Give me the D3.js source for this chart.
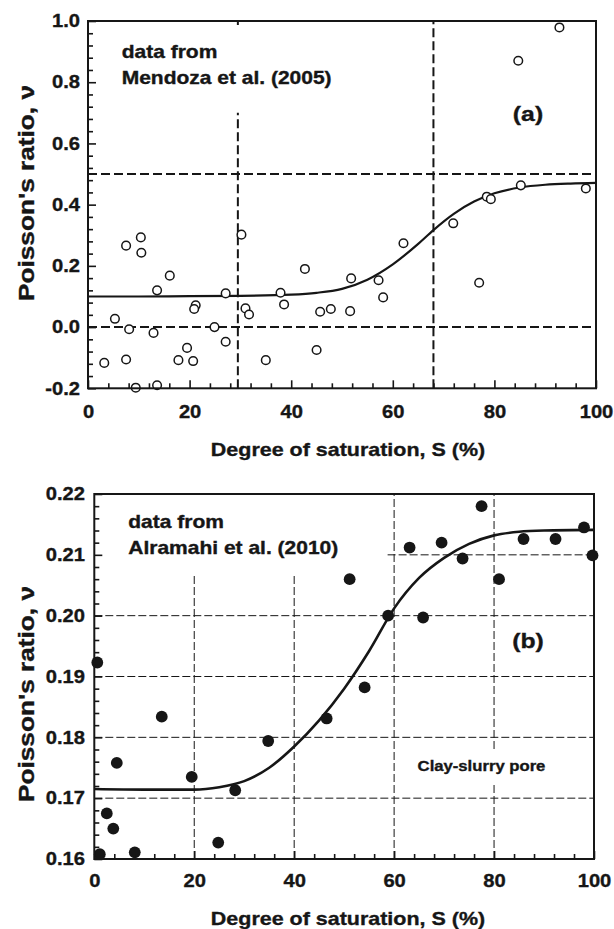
<!DOCTYPE html>
<html><head><meta charset="utf-8">
<script src="https://cdn.jsdelivr.net/npm/d3@7"></script>
<style>
html,body{margin:0;padding:0;background:#fff;}
svg{display:block;font-family:"Liberation Sans",Arial,Helvetica,sans-serif;}
</style></head><body>
<svg id="fig" width="614" height="929"></svg>
<script>
// ---- Panel (a): data from Mendoza et al. (2005) ----
const satA = [3.2,5.3,7.5,7.5,8.1,9.4,10.4,10.5,12.9,13.6,13.6,16.1,17.8,19.5,20.7,21.2,20.9,24.9,27.1,27.1,
              30.2,31.0,31.7,35.0,37.9,38.6,42.7,45.0,45.7,47.8,51.6,51.8,57.2,58.1,62.1,71.9,77.0,78.5,79.3,
              85.2,98.0,84.7,92.8];
const nuA  = [-0.117,0.027,0.266,-0.106,-0.007,-0.198,0.293,0.243,-0.019,0.120,-0.190,0.168,-0.108,-0.068,-0.111,0.071,0.059,0.000,0.110,-0.048,
              0.302,0.061,0.041,-0.108,0.112,0.074,0.190,-0.075,0.050,0.059,0.052,0.159,0.153,0.097,0.274,0.339,0.145,0.426,0.418,
              0.463,0.453,0.870,0.979];
const fitSatA = [0,10,20,30,40,45,50,55,60,65,68,72,76,80,85,90,95,100];
const fitNuA  = [0.100,0.100,0.101,0.102,0.106,0.112,0.125,0.155,0.205,0.272,0.317,0.370,0.410,0.437,0.456,0.465,0.469,0.471];
const yTicksA = [-0.2,0.0,0.2,0.4,0.6,0.8,1.0];
const refNuA  = [0.0, 0.5];                 // horizontal dashed reference levels
const refSatA = [29.5, 68];                 // vertical dashed reference saturations
const refSatTopA = [0.7, 1.0];              // upper end of each vertical reference line

// ---- Panel (b): data from Alramahi et al. (2010) ----
const satB = [0.6,1.1,2.5,3.8,4.5,8.1,13.5,19.5,24.8,28.2,34.8,46.5,51.1,54.1,58.8,63.1,65.8,69.5,73.7,77.5,81.0,85.9,92.3,98.0,99.7];
const nuB  = [0.1923,0.1608,0.1675,0.1650,0.1758,0.1611,0.1834,0.1735,0.1627,0.1713,0.1794,0.1831,0.2060,0.1882,0.2000,0.2112,0.1997,0.2120,0.2094,0.2180,0.2060,0.2126,0.2126,0.2145,0.2099];
const fitSatB = [0,10,20,25,30,35,40,45,50,55,60,65,70,75,80,85,90,100];
const fitNuB  = [0.1715,0.1714,0.1714,0.1718,0.1728,0.1750,0.1785,0.1828,0.1880,0.1942,0.2012,0.2062,0.2095,0.2118,0.2132,0.2138,0.2140,0.2141];
const yTicksB = [0.16,0.17,0.18,0.19,0.20,0.21,0.22];
const gridSatB = [20,40,60,80];
const gridSatTopB = [0.207,0.207,0.22,0.22];
const gridNuB = [0.17,0.18,0.19,0.20,0.21];
const gridNuStartB = [0,0,0,0,58.7];

const xTicks = [0,20,40,60,80,100];

const INK = "#161616";
const svg = d3.select("#fig");

// bold text stretched horizontally by sx
function txt(g, x, y, s, size, anchor, sx, rot) {
  return g.append("text")
    .attr("transform", `translate(${x},${y})` + (rot ? ` rotate(${rot})` : "") + ` scale(${sx},1)`)
    .attr("text-anchor", anchor)
    .style("font-size", size + "px")
    .style("font-weight", "bold")
    .style("fill", INK)
    .style("stroke", INK).style("stroke-width", 0.35)
    .text(s);
}

function minorRange(lo, hi, step, majors) {
  const out = [];
  const n = Math.round((hi - lo) / step);
  for (let i = 0; i <= n; i++) {
    const v = +(lo + i * step).toFixed(6);
    if (!majors.some(m => Math.abs(m - v) < 1e-9)) out.push(v);
  }
  return out;
}

function frameAndAxes(x, y, yTicks, yFmt, yMinorStep, yPad, xPad) {
  const [x0, x1] = x.range();
  const [y0, y1] = y.range();
  const sx = 1.12;
  // major ticks + labels
  const ax = svg.append("g").attr("transform", `translate(${x0},0)`)
    .call(d3.axisLeft(y).tickValues(yTicks).tickSize(-8).tickPadding(yPad / sx).tickFormat(yFmt));
  const bx = svg.append("g").attr("transform", `translate(0,${y0})`)
    .call(d3.axisBottom(x).tickValues(xTicks).tickSize(-8).tickPadding(xPad).tickFormat(d3.format("d")));
  // minor ticks
  const d = y.domain();
  const am = svg.append("g").attr("transform", `translate(${x0},0)`)
    .call(d3.axisLeft(y).tickValues(minorRange(d[0], d[1], yMinorStep, yTicks)).tickSize(-5).tickFormat(() => ""));
  const bm = svg.append("g").attr("transform", `translate(0,${y0})`)
    .call(d3.axisBottom(x).tickValues(minorRange(0, 100, 4, xTicks)).tickSize(-5).tickFormat(() => ""));
  [ax, bx, am, bm].forEach(g => {
    g.select(".domain").remove();
    g.attr("font-family", null).attr("font-size", null);
    g.selectAll("line").attr("stroke", INK).attr("stroke-width", 1.6);
  });
  [ax, bx].forEach(g => g.selectAll("text")
    .attr("fill", INK).style("font-size", "18px").style("font-weight", "bold")
    .style("stroke", INK).style("stroke-width", 0.35)
    .attr("transform", `scale(${sx},1)`));
  // frame
  svg.append("rect").attr("x", x0).attr("y", y1).attr("width", x1 - x0).attr("height", y0 - y1)
    .attr("fill", "none").attr("stroke", INK).attr("stroke-width", 2);
}

const dashFmtA = v => d3.format(".1f")(v).replace("\u2212", "-");

// ================= Panel (a) =================
{
  const x = d3.scaleLinear().domain([0, 100]).range([88, 596]);
  const y = d3.scaleLinear().domain([-0.2, 1.0]).range([388.3, 21]);
  const g = svg.append("g");

  // dashed reference lines
  g.selectAll("line.h").data(refNuA).join("line")
    .attr("x1", x(0)).attr("x2", x(100)).attr("y1", d => y(d)).attr("y2", d => y(d))
    .attr("stroke", INK).attr("stroke-width", 2).attr("stroke-dasharray", "9,4");
  g.selectAll("line.v").data(refSatA).join("line")
    .attr("x1", d => x(d)).attr("x2", d => x(d)).attr("y1", y(-0.2)).attr("y2", (d, i) => y(refSatTopA[i]))
    .attr("stroke", INK).attr("stroke-width", 2).attr("stroke-dasharray", "9,4");
  g.append("line").attr("x1", x(refSatA[0])).attr("x2", x(refSatA[0])).attr("y1", y(1.0)).attr("y2", y(1.0) + 4)
    .attr("stroke", INK).attr("stroke-width", 2);

  // fitted curve
  const line = d3.line().x(d => x(d[0])).y(d => y(d[1])).curve(d3.curveMonotoneX);
  g.append("path").datum(fitSatA.map((s, i) => [s, fitNuA[i]])).attr("d", line)
    .attr("fill", "none").attr("stroke", INK).attr("stroke-width", 2.2);

  // measurements
  g.selectAll("circle").data(satA.map((s, i) => [s, nuA[i]])).join("circle")
    .attr("cx", d => x(d[0])).attr("cy", d => y(d[1])).attr("r", 4.3)
    .attr("fill", "#fff").attr("stroke", INK).attr("stroke-width", 1.5);

  frameAndAxes(x, y, yTicksA, dashFmtA, 0.04, 8, 17);

  txt(g, 121.7, 58, "data from", 17.5, "start", 1.2);
  txt(g, 121.7, 84, "Mendoza et al. (2005)", 17.5, "start", 1.2);
  txt(g, 528, 121, "(a)", 21, "middle", 1.18);
  txt(g, 348, 456, "Degree of saturation, S (%)", 19, "middle", 1.13);
  txt(g, 34, 193, "Poisson's ratio, \u03BD", 21.5, "middle", 1.22, -90);
}

// ================= Panel (b) =================
{
  const x = d3.scaleLinear().domain([0, 100]).range([94.3, 594]);
  const y = d3.scaleLinear().domain([0.16, 0.22]).range([859, 494]);
  const g = svg.append("g");

  // dashed grid
  g.selectAll("line.gv").data(gridSatB).join("line")
    .attr("x1", d => x(d)).attr("x2", d => x(d)).attr("y1", y(0.16)).attr("y2", (d, i) => y(gridSatTopB[i]))
    .attr("stroke", INK).attr("stroke-width", 1).attr("stroke-dasharray", "8,3");
  g.selectAll("line.gh").data(gridNuB).join("line")
    .attr("x1", (d, i) => x(gridNuStartB[i])).attr("x2", x(100)).attr("y1", d => y(d)).attr("y2", d => y(d))
    .attr("stroke", INK).attr("stroke-width", 1).attr("stroke-dasharray", "8,3");

  // label with white backing over the grid
  g.append("rect").attr("x", 412).attr("y", 751).attr("width", 140).attr("height", 31).attr("fill", "#fff");
  txt(g, 481.5, 771, "Clay-slurry pore", 14.5, "middle", 1.15);

  // fitted curve
  const line = d3.line().x(d => x(d[0])).y(d => y(d[1])).curve(d3.curveMonotoneX);
  g.append("path").datum(fitSatB.map((s, i) => [s, fitNuB[i]])).attr("d", line)
    .attr("fill", "none").attr("stroke", INK).attr("stroke-width", 2.6);

  frameAndAxes(x, y, yTicksB, d3.format(".2f"), 0.002, 9.3, 15.5);

  // measurements
  g.selectAll("circle").data(satB.map((s, i) => [s, nuB[i]])).join("circle")
    .attr("cx", d => x(d[0])).attr("cy", d => y(d[1])).attr("r", 5.9)
    .attr("fill", INK);

  txt(g, 128.3, 528.3, "data from", 17.5, "start", 1.2);
  txt(g, 128.3, 553.5, "Alramahi et al. (2010)", 17.5, "start", 1.2);
  txt(g, 528, 648, "(b)", 21, "middle", 1.18);
  txt(g, 348, 925, "Degree of saturation, S (%)", 19, "middle", 1.13);
  txt(g, 34, 694, "Poisson's ratio, \u03BD", 21.5, "middle", 1.22, -90);
}
</script>
</body></html>
